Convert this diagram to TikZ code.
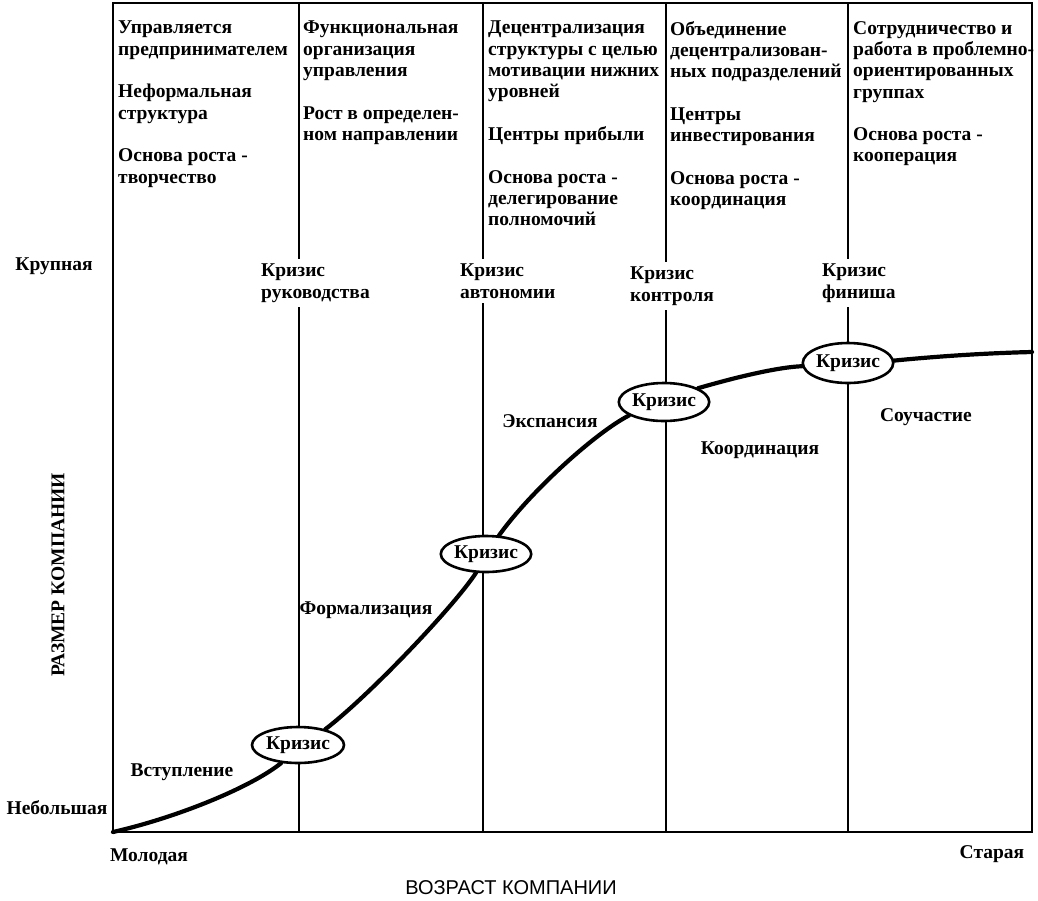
\documentclass[tikz,border=0pt]{standalone}
\usepackage{fontspec}
\setmainfont{Liberation Serif}
\newfontfamily\sansf{Liberation Sans}
\usetikzlibrary{shapes.geometric}
\begin{document}
\begin{tikzpicture}[x=1pt,y=-1pt,
  every node/.style={inner sep=0pt},
  txtfont/.style={font=\bfseries\fontsize{19.5}{21.3}\selectfont},
  coltext/.style={txtfont, align=left, anchor=north west},
  clabel/.style={txtfont, align=left, anchor=north west, fill=white, inner ysep=5pt},
  stagelabel/.style={txtfont},
  crisis/.style={ellipse, draw, line width=2.6pt, fill=white, txtfont,
    minimum width=92pt, minimum height=36pt, inner sep=0pt},
  frameline/.style={line width=2.8pt},
  vline/.style={line width=2.8pt},
  growth/.style={line width=4.2pt, line cap=round}]
\useasboundingbox (0,0) rectangle (1038,900);

% frame
\draw[frameline] (113,3) rectangle (1032,832);

% vertical stage boundaries
\coordinate (t1) at (299,3);   \coordinate (b1) at (299,832);
\coordinate (t2) at (483,3);   \coordinate (b2) at (483,832);
\coordinate (t3) at (666,3);   \coordinate (b3) at (666,832);
\coordinate (t4) at (848,3);   \coordinate (b4) at (848,832);
\draw[vline] (t1) -- (b1);
\draw[vline] (t2) -- (b2);
\draw[vline] (t3) -- (b3);
\draw[vline] (t4) -- (b4);

% column texts
\node[coltext] (col1) at (118,21) {Управляется\\предпринимателем\\[21.3pt]Неформальная\\структура\\[21.3pt]Основа роста -\\творчество};
\node[coltext] (col2) at (303,21) {Функциональная\\организация\\управления\\[21.3pt]Рост в определен-\\ном направлении};
\node[coltext] (col3) at (488,21) {Децентрализация\\структуры с целью\\мотивации нижних\\уровней\\[21.3pt]Центры прибыли\\[21.3pt]Основа роста -\\делегирование\\полномочий};
\node[coltext] (col4) at (670,21) {Объединение\\децентрализован-\\ных подразделений\\[21.3pt]Центры\\инвестирования\\[21.3pt]Основа роста -\\координация};
\node[coltext] (col5) at (853,21) {Сотрудничество и\\работа в проблемно-\\ориентированных\\группах\\[21.3pt]Основа роста -\\кооперация};

% crisis labels
\node[clabel] (c1) at (261,259) {Кризис\\руководства};
\node[clabel] (c2) at (460,259) {Кризис\\автономии};
\node[clabel] (c3) at (630,262) {Кризис\\контроля};
\node[clabel] (c4) at (822,259) {Кризис\\финиша};

% crisis ellipses
\node[crisis] (k1) at (298,745) {Кризис};
\node[crisis, minimum width=88pt] (k2) at (486,554) {Кризис};
\node[crisis, minimum width=88pt, minimum height=38pt] (k3) at (664,402) {Кризис};
\node[crisis, minimum width=89pt, minimum height=40pt] (k4) at (848,363) {Кризис};

% growth curve
\coordinate (o) at (113,832);
\coordinate (e) at (1032,352);
\draw[growth] (o) .. controls (175,818) and (250,788) .. (k1.227);
\draw[growth] (k1.30) .. controls (370,695) and (455,605) .. (k2.242);
\draw[growth] (k2.55) .. controls (530,492) and (595,433) .. (k3.201);
\draw[growth] (k3.22) .. controls (740,376) and (780,367) .. (k4.184);
\draw[growth] (k4.3) .. controls (940,356) and (990,353) .. (e);

% stage labels
\node[stagelabel] (s1) at (182,772) {Вступление};
\node[stagelabel] (s2) at (366,610) {Формализация};
\node[stagelabel] (s3) at (550,421) {Экспансия};
\node[stagelabel] (s4) at (760,450) {Координация};
\node[stagelabel] (s5) at (926,417) {Соучастие};

% axis labels
\node[txtfont] (big) at (54,266) {Крупная};
\node[txtfont] (small) at (57,808) {Небольшая};
\node[txtfont, rotate=90] (ylab) at (58,575) {РАЗМЕР КОМПАНИИ};
\node[txtfont] (young) at (149,857) {Молодая};
\node[txtfont] (old) at (992,854) {Старая};
\node[font=\sansf\fontsize{20}{24}\selectfont] (xlab) at (511,888) {ВОЗРАСТ КОМПАНИИ};
\end{tikzpicture}
\end{document}
